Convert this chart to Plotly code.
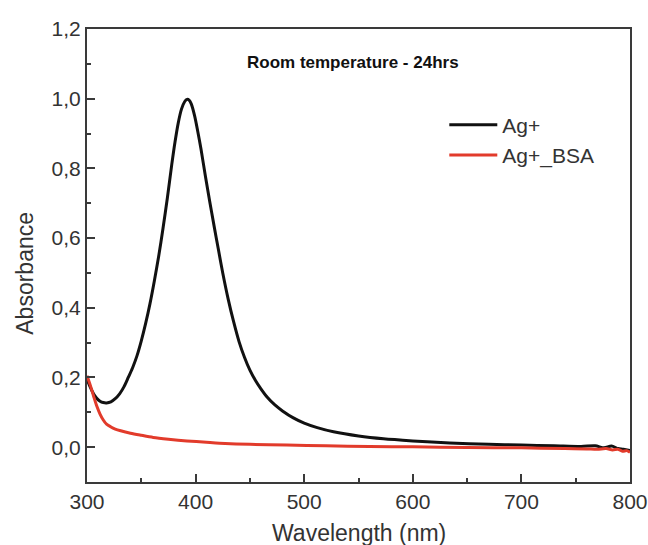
import plotly.graph_objects as go

# UV-Vis absorbance spectra after 24 h at room temperature
wl_ag = [300, 303, 306, 309, 312, 315, 318, 322, 326, 330, 334, 338, 342, 346, 350, 354,
         358, 362, 366, 370, 374, 378, 381, 384, 387, 390, 392, 394, 396, 399, 402, 405,
         409, 413, 417, 421, 425, 430, 435, 440, 445, 450, 455, 460, 466, 473, 480, 490,
         500, 512, 527, 550, 573, 600, 634, 670, 700, 730, 755, 768, 776, 783, 789, 794, 800]
abs_ag = [0.195, 0.172, 0.153, 0.140, 0.132, 0.128, 0.127, 0.130, 0.139, 0.153, 0.173,
          0.200, 0.228, 0.262, 0.305, 0.355, 0.412, 0.477, 0.548, 0.628, 0.715, 0.810,
          0.875, 0.930, 0.970, 0.992, 0.998, 0.996, 0.985, 0.952, 0.906, 0.855, 0.778,
          0.705, 0.635, 0.567, 0.500, 0.425, 0.360, 0.303, 0.258, 0.221, 0.192, 0.168,
          0.143, 0.121, 0.104, 0.084, 0.069, 0.056, 0.044, 0.032, 0.024, 0.018, 0.012,
          0.008, 0.006, 0.004, 0.002, 0.004, -0.002, 0.003, -0.004, -0.006, -0.010]

wl_bsa = [300, 303, 306, 309, 312, 315, 318, 322, 326, 331, 340, 350, 361, 375, 392, 410,
          422, 450, 484, 520, 560, 600, 650, 700, 740, 760, 770, 778, 784, 789, 793, 797, 800]
abs_bsa = [0.205, 0.178, 0.147, 0.118, 0.095, 0.078, 0.066, 0.058, 0.052, 0.047, 0.040,
           0.034, 0.028, 0.023, 0.018, 0.014, 0.0115, 0.008, 0.006, 0.004, 0.002, 0.001,
           -0.001, -0.002, -0.004, -0.005, -0.006, -0.004, -0.008, -0.006, -0.012, -0.010,
           -0.015]

x_ticks = [300, 400, 500, 600, 700, 800]
y_ticks = [0.0, 0.2, 0.4, 0.6, 0.8, 1.0, 1.2]

FONT = "Liberation Sans, Arial, sans-serif"
TXT = "#333333"
AX = "#3a3a3a"

fig = go.Figure()
fig.add_trace(go.Scatter(x=wl_ag, y=abs_ag, mode="lines", name="Ag+",
                         line=dict(color="#111111", width=3, shape="spline", smoothing=0.8)))
fig.add_trace(go.Scatter(x=wl_bsa, y=abs_bsa, mode="lines", name="Ag+_BSA",
                         line=dict(color="#e23b2b", width=3, shape="spline", smoothing=0.8)))

axis_common = dict(
    showline=True, linecolor=AX, linewidth=2, mirror=True,
    ticks="inside", ticklen=8, tickwidth=2, tickcolor=AX,
    showgrid=False, zeroline=False, automargin=False,
    tickfont=dict(family=FONT, size=21, color=TXT),
)

fig.update_xaxes(range=[300, 800], tickvals=x_ticks,
                 minor=dict(dtick=50, ticks="inside", ticklen=4, tickwidth=2, tickcolor=AX),
                 **axis_common)
fig.update_yaxes(range=[-0.1, 1.2], tickvals=y_ticks, tickformat=".1f",
                 minor=dict(dtick=0.1, ticks="inside", ticklen=4, tickwidth=2, tickcolor=AX),
                 **axis_common)

fig.add_annotation(text="Room temperature - 24hrs", xref="paper", yref="paper",
                   x=0.49, y=0.925, showarrow=False, xanchor="center", yanchor="middle",
                   font=dict(family=FONT, size=17, color="#111111", weight="bold"))
fig.add_annotation(text="Absorbance", xref="paper", yref="paper", x=-0.114, y=0.46,
                   textangle=-90, showarrow=False, xanchor="center", yanchor="middle",
                   font=dict(family=FONT, size=23, color=TXT))
fig.add_annotation(text="Wavelength (nm)", xref="paper", yref="paper", x=0.5, y=-0.112,
                   showarrow=False, xanchor="center", yanchor="middle",
                   font=dict(family=FONT, size=23, color=TXT))

fig.update_layout(
    width=648, height=545,
    margin=dict(l=87, r=18, t=29, b=63, autoexpand=False),
    plot_bgcolor="white", paper_bgcolor="white",
    separators=",.",
    showlegend=True,
    legend=dict(x=0.658, y=0.833, xanchor="left", yanchor="top",
                bgcolor="rgba(0,0,0,0)", borderwidth=0, itemwidth=48,
                font=dict(family=FONT, size=21, color=TXT), tracegroupgap=0),
)

fig.write_html("out.html")
